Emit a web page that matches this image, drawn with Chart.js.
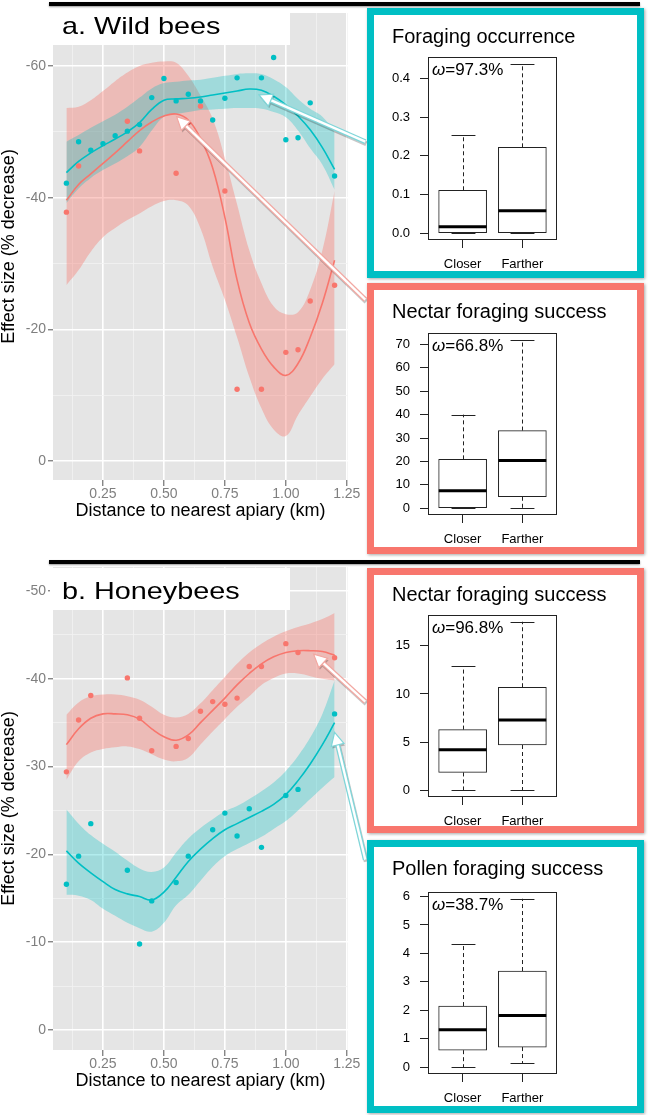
<!DOCTYPE html>
<html>
<head>
<meta charset="utf-8">
<script src="https://cdn.jsdelivr.net/npm/chart.js@4.4.1/dist/chart.umd.min.js"></script>
<style>
  html, body { margin: 0; padding: 0; background: #fff; }
  body { position: relative; width: 648px; height: 1115px; overflow: hidden; }
  canvas { position: absolute; }
  .rule { position: absolute; left: 49px; width: 591px; height: 4px; background: #000; box-shadow: 0 1px 2px rgba(0,0,0,0.4); }
  .frame { position: absolute; box-sizing: border-box; border: 7px solid; background: #fff; box-shadow: 1px 1px 3px rgba(0,0,0,0.35); }
</style>
</head>
<body>
<canvas id="wild" width="367" height="530" style="left:0;top:0"></canvas>
<canvas id="honey" width="367" height="550" style="left:0;top:550px"></canvas>
<div class="rule" style="top:2px"></div>
<div class="rule" style="top:560px"></div>
<div class="frame" style="left:367px;top:8px;width:277px;height:270px;border-color:#00BFC4"></div>
<div class="frame" style="left:367px;top:283px;width:277px;height:271px;border-color:#F8766D"></div>
<div class="frame" style="left:367px;top:568px;width:277px;height:265px;border-color:#F8766D"></div>
<div class="frame" style="left:367px;top:840px;width:277px;height:273px;border-color:#00BFC4"></div>
<canvas id="box1" width="263" height="256" style="left:374px;top:15px"></canvas>
<canvas id="box2" width="263" height="257" style="left:374px;top:290px"></canvas>
<canvas id="box3" width="263" height="251" style="left:374px;top:575px"></canvas>
<canvas id="box4" width="263" height="259" style="left:374px;top:847px"></canvas>
<script>
//colours of the two series, ggplot defaults
const RED = '#F8766D'
const TEAL = '#00BFC4'
const RED_BAND = 'rgba(248,118,109,0.38)'
const TEAL_BAND = 'rgba(0,191,196,0.30)'

//x positions of the smoothed fits and their bands
const fitX = [0.1, 0.15, 0.2, 0.25, 0.3, 0.35, 0.4, 0.45, 0.5, 0.55, 0.6, 0.65, 0.7, 0.75, 0.8, 0.85, 0.9, 0.95, 1.0, 1.05, 1.1, 1.15, 1.2]
const xTicks = [0.125, 0.25, 0.375, 0.5, 0.625, 0.75, 0.875, 1, 1.125, 1.25]
const xMajor = [0.25, 0.5, 0.75, 1, 1.25]

//a. wild bees
const wildRedX = [0.1, 0.15, 0.35, 0.4, 0.55, 0.6, 0.65, 0.75, 0.8, 0.9, 1.0, 1.05, 1.1, 1.2]
const wildRedY = [-37.8, -44.8, -51.6, -47.1, -43.7, -51.4, -53.9, -41.0, -10.9, -10.9, -16.5, -16.9, -24.3, -26.7]
const wildTealX = [0.1, 0.15, 0.2, 0.25, 0.3, 0.35, 0.4, 0.45, 0.5, 0.55, 0.6, 0.65, 0.7, 0.75, 0.8, 0.9, 0.95, 1.0, 1.05, 1.1, 1.2]
const wildTealY = [-42.2, -48.5, -47.2, -48.2, -49.4, -50.1, -51.1, -55.2, -58.1, -54.7, -55.7, -54.7, -51.8, -55.1, -58.2, -58.2, -61.3, -48.8, -49.1, -54.4, -43.3]
const wildRedFit = [-39.6, -42.0, -43.6, -45.2, -46.8, -48.5, -50.2, -51.5, -52.4, -52.7, -51.8, -49.0, -44.5, -37.0, -27.5, -21.0, -17.0, -14.3, -13.0, -14.8, -18.8, -24.0, -30.5]
const wildRedHi = [-53.6, -53.8, -54.8, -56.2, -57.7, -59.0, -60.0, -60.5, -60.7, -60.5, -58.5, -55.5, -52.0, -46.0, -39.0, -32.0, -27.0, -23.5, -22.3, -22.6, -26.0, -32.0, -41.0]
const wildRedLo = [-26.7, -29.0, -31.8, -34.0, -35.4, -36.6, -37.6, -38.7, -39.5, -39.6, -38.8, -35.3, -29.5, -24.5, -18.8, -12.8, -8.0, -4.8, -3.8, -7.0, -9.8, -12.5, -14.7]
const wildTealFit = [-43.8, -45.5, -46.8, -47.9, -48.9, -50.0, -51.4, -53.4, -54.8, -55.0, -55.1, -55.3, -55.6, -55.9, -56.2, -56.5, -56.3, -55.4, -54.1, -52.4, -50.3, -47.6, -44.3]
const wildTealHi = [-48.5, -49.5, -50.6, -51.6, -52.6, -53.8, -55.2, -56.6, -57.4, -57.6, -57.8, -57.9, -58.2, -58.5, -58.8, -58.9, -58.8, -58.0, -56.8, -55.0, -53.5, -52.3, -50.0]
const wildTealLo = [-39.2, -41.4, -43.0, -44.2, -45.2, -46.3, -47.7, -50.2, -52.3, -52.7, -53.0, -53.3, -53.4, -53.5, -53.6, -53.6, -53.5, -53.0, -52.2, -50.2, -47.5, -45.0, -41.2]
const wildYTicks = [-60, -50, -40, -30, -20, -10, 0]

//b. honeybees
const honeyRedX = [0.1, 0.15, 0.2, 0.35, 0.4, 0.45, 0.55, 0.6, 0.65, 0.7, 0.75, 0.8, 0.85, 0.9, 1.0, 1.05, 1.2]
const honeyRedY = [-29.4, -35.3, -38.1, -40.1, -35.5, -31.8, -32.3, -33.2, -36.3, -37.4, -37.1, -37.8, -41.4, -41.4, -44.0, -43.0, -42.4]
const honeyTealX = [0.1, 0.15, 0.2, 0.35, 0.4, 0.45, 0.55, 0.6, 0.7, 0.75, 0.8, 0.85, 0.9, 1.0, 1.05, 1.2]
const honeyTealY = [-16.6, -19.8, -23.5, -18.2, -9.8, -14.7, -16.8, -19.8, -22.8, -24.7, -22.1, -25.2, -20.8, -26.7, -27.4, -36.0]
const honeyRedFit = [-32.5, -34.3, -35.5, -36.0, -36.0, -35.9, -35.4, -34.3, -33.4, -33.0, -33.6, -35.0, -36.4, -37.8, -39.3, -40.6, -41.7, -42.5, -43.0, -43.2, -43.2, -43.1, -42.7]
const honeyRedHi = [-35.9, -37.3, -38.0, -38.2, -38.2, -38.0, -37.6, -36.8, -35.9, -35.6, -36.0, -37.2, -38.7, -40.2, -41.7, -43.0, -44.0, -44.8, -45.4, -45.9, -46.3, -46.8, -47.5]
const honeyRedLo = [-28.5, -30.6, -31.6, -32.0, -32.2, -32.3, -32.0, -31.4, -30.8, -30.6, -31.0, -32.5, -34.0, -35.4, -36.8, -38.0, -39.3, -40.1, -40.6, -40.6, -40.3, -40.0, -39.8]
const honeyTealFit = [-20.4, -19.0, -17.9, -16.9, -16.0, -15.5, -15.2, -14.8, -15.7, -17.4, -19.2, -20.6, -21.8, -22.8, -23.5, -24.2, -24.9, -25.7, -26.8, -28.4, -30.3, -32.5, -35.0]
const honeyTealHi = [-25.1, -23.5, -22.2, -21.2, -20.3, -19.3, -18.4, -18.0, -18.5, -20.2, -21.8, -23.0, -24.0, -24.9, -25.5, -26.3, -27.2, -28.2, -29.5, -31.2, -33.3, -36.0, -39.8]
const honeyTealLo = [-15.4, -15.3, -14.8, -13.8, -13.0, -12.2, -11.6, -11.2, -12.2, -14.2, -15.4, -17.0, -18.6, -19.8, -20.6, -21.3, -22.0, -22.9, -23.8, -25.0, -26.3, -27.6, -28.8]
const honeyYTicks = [-50, -45, -40, -35, -30, -25, -20, -15, -10, -5, 0]

//boxplot stats: min, lower quartile, median, upper quartile, max
const groups = ['Closer', 'Farther']
const occurrenceCloser = [0, 0, 0.017, 0.111, 0.254]
const occurrenceFarther = [0, 0, 0.058, 0.222, 0.438]
const wildNectarCloser = [0, 0, 7.5, 20.9, 40]
const wildNectarFarther = [0, 4.9, 20.4, 33.2, 72]
const honeyNectarCloser = [0, 1.85, 4.2, 6.3, 12.9]
const honeyNectarFarther = [0, 4.7, 7.3, 10.7, 17.5]
const pollenCloser = [0, 0.6, 1.32, 2.15, 4.32]
const pollenFarther = [0.14, 0.71, 1.82, 3.38, 5.92]

const FONT = '"Liberation Sans", Arial, Helvetica, sans-serif'
Chart.defaults.font.family = FONT

function pts(xs, ys) {
    return xs.map((x, i) => ({x, y: ys[i]}))
}

//band (upper filled down to lower) + fitted line + points for one series
function seriesSets(px, py, fit, hi, lo, color, band) {
    return [
        {type: 'line', data: pts(fitX, hi), borderColor: 'transparent', borderWidth: 0, pointRadius: 0, fill: '+1', backgroundColor: band, tension: 0.4, order: 3},
        {type: 'line', data: pts(fitX, lo), borderColor: 'transparent', borderWidth: 0, pointRadius: 0, fill: false, tension: 0.4, order: 3},
        {type: 'line', data: pts(fitX, fit), borderColor: color, borderWidth: 1.6, pointRadius: 0, fill: false, tension: 0.4, order: 2},
        {type: 'scatter', data: pts(px, py), backgroundColor: color, borderWidth: 0, pointRadius: 2.7, order: 1}
    ]
}

function drawArrow(ctx, x0, y0, x1, y1, color) {
    const ang = Math.atan2(y1 - y0, x1 - x0)
    const c = Math.cos(ang), s = Math.sin(ang)
    const len = 13, w = 6.5
    const bx = x1 - c * len, by = y1 - s * len
    const head = (dx, dy) => {
        ctx.beginPath()
        ctx.moveTo(x1 + dx, y1 + dy)
        ctx.lineTo(bx - s * w + dx, by + c * w + dy)
        ctx.lineTo(bx + s * w + dx, by - c * w + dy)
        ctx.closePath()
    }
    ctx.save()
    ctx.lineCap = 'butt'
    //soft shadow
    ctx.strokeStyle = 'rgba(0,0,0,0.22)'
    ctx.lineWidth = 5
    ctx.beginPath(); ctx.moveTo(x0 + 1, y0 + 2); ctx.lineTo(bx + 1, by + 2); ctx.stroke()
    head(1, 2); ctx.fillStyle = 'rgba(0,0,0,0.22)'; ctx.fill()
    //shaft: coloured rim, white core
    ctx.strokeStyle = color
    ctx.lineWidth = 5
    ctx.beginPath(); ctx.moveTo(x0, y0); ctx.lineTo(bx, by); ctx.stroke()
    ctx.strokeStyle = '#fff'
    ctx.lineWidth = 2.4
    ctx.beginPath(); ctx.moveTo(x0, y0); ctx.lineTo(bx + c * 2, by + s * 2); ctx.stroke()
    head(0, 0)
    ctx.fillStyle = '#fff'; ctx.fill()
    ctx.strokeStyle = color; ctx.lineWidth = 1.2; ctx.stroke()
    ctx.restore()
}

//grey panel, white title box, arrows to the insets
function panelPlugin(title, box, arrows) {
    return {
        id: 'panel',
        beforeDraw(chart) {
            const {ctx, chartArea: a} = chart
            ctx.save()
            ctx.fillStyle = '#E5E5E5'
            ctx.fillRect(a.left, a.top, a.right - a.left, a.bottom - a.top)
            ctx.restore()
        },
        beforeDatasetsDraw(chart) {
            const ctx = chart.ctx
            ctx.save()
            ctx.fillStyle = '#fff'
            ctx.fillRect(box.x, box.y, box.w, box.h)
            ctx.fillStyle = '#000'
            ctx.font = '24px ' + FONT
            ctx.textBaseline = 'alphabetic'
            ctx.translate(box.tx, box.ty)
            ctx.scale(1.2, 1)
            ctx.fillText(title, 0, 0)
            ctx.restore()
        },
        afterDatasetsDraw(chart) {
            const {ctx, scales: {x, y}} = chart
            arrows.forEach(ar => {
                drawArrow(ctx,
                    x.getPixelForValue(ar.from[0]), y.getPixelForValue(ar.from[1]),
                    x.getPixelForValue(ar.to[0]), y.getPixelForValue(ar.to[1]), ar.color)
            })
        }
    }
}

function panelChart(id, cfg) {
    const isMajorX = v => xMajor.some(m => Math.abs(m - v) < 1e-6)
    const isMajorY = v => Math.abs(v % cfg.yMajor) < 1e-6
    return new Chart(document.getElementById(id), {
        type: 'scatter',
        data: {datasets: cfg.datasets},
        options: {
            responsive: false, animation: false, devicePixelRatio: 1, events: [],
            layout: {padding: {top: cfg.top, right: 19, left: 0, bottom: 0}},
            plugins: {legend: {display: false}, tooltip: {enabled: false}},
            scales: {
                x: {
                    type: 'linear', min: 0.045, max: 1.255,
                    afterBuildTicks: s => { s.ticks = xTicks.map(v => ({value: v})) },
                    ticks: {autoSkip: false, maxRotation: 0, color: '#7F7F7F', font: {size: 14}, padding: 0,
                        callback: v => isMajorX(v) ? v.toFixed(2) : ''},
                    grid: {color: c => isMajorX(c.tick.value) ? '#fff' : '#F2F2F2',
                        lineWidth: c => isMajorX(c.tick.value) ? 1.6 : 0.8,
                        tickLength: 6, tickWidth: 1,
                        tickColor: c => isMajorX(c.tick.value) ? '#555' : 'rgba(0,0,0,0)'},
                    border: {display: false},
                    title: {display: true, text: 'Distance to nearest apiary (km)', color: '#000',
                        font: {size: 18, lineHeight: 1}, padding: {top: 0, bottom: 10}},
                    afterFit: s => { s.height = 50; s.paddingLeft = 0; s.paddingRight = 0 }
                },
                y: {
                    type: 'linear', reverse: true, min: cfg.yMin, max: cfg.yMax,
                    afterBuildTicks: s => { s.ticks = cfg.yTicks.map(v => ({value: v})) },
                    ticks: {autoSkip: false, color: '#7F7F7F', font: {size: 14}, padding: 2,
                        callback: v => isMajorY(v) ? String(v) : ''},
                    grid: {color: c => isMajorY(c.tick.value) ? '#fff' : '#F2F2F2',
                        lineWidth: c => isMajorY(c.tick.value) ? 1.6 : 0.8,
                        tickLength: 5, tickWidth: 1,
                        tickColor: c => isMajorY(c.tick.value) ? '#555' : 'rgba(0,0,0,0)'},
                    border: {display: false},
                    title: {display: true, text: 'Effect size (% decrease)', color: '#000',
                        font: {size: 18, lineHeight: 1}, padding: {top: 0, bottom: 0}},
                    afterFit: s => { s.width = 53; s.paddingTop = 0; s.paddingBottom = 0 }
                }
            }
        },
        plugins: [panelPlugin(cfg.title, cfg.box, cfg.arrows)]
    })
}

panelChart('wild', {
    title: 'a. Wild bees', top: 13, yMin: -68.05, yMax: 2.89, yTicks: wildYTicks, yMajor: 20,
    box: {x: 50, y: 11, w: 240, h: 34, tx: 62, ty: 34},
    datasets: [
        ...seriesSets(wildTealX, wildTealY, wildTealFit, wildTealHi, wildTealLo, TEAL, TEAL_BAND),
        ...seriesSets(wildRedX, wildRedY, wildRedFit, wildRedHi, wildRedLo, RED, RED_BAND)
    ],
    arrows: [
        {from: [1.326, -48.5], to: [0.89, -55.6], color: '#7FD6D9'},
        {from: [1.326, -24.5], to: [0.552, -52.3], color: '#F2A8A2'}
    ]
})

panelChart('honey', {
    title: 'b. Honeybees', top: 17, yMin: -52.73, yMax: 2.28, yTicks: honeyYTicks, yMajor: 10,
    box: {x: 50, y: 18, w: 240, h: 42, tx: 62, ty: 49},
    datasets: [
        ...seriesSets(honeyTealX, honeyTealY, honeyTealFit, honeyTealHi, honeyTealLo, TEAL, TEAL_BAND),
        ...seriesSets(honeyRedX, honeyRedY, honeyRedFit, honeyRedHi, honeyRedLo, RED, RED_BAND)
    ],
    arrows: [
        {from: [1.326, -37.4], to: [1.114, -42.8], color: '#F2A8A2'},
        {from: [1.326, -19.4], to: [1.2, -33.9], color: '#7FD6D9'}
    ]
})

//whiskers, caps, medians, frame, title and omega label of one inset
function boxPlugin(stats, title, omega, titleY) {
    return {
        id: 'boxes',
        afterDatasetsDraw(chart) {
            const {ctx, chartArea: a, scales: {x, y}} = chart
            ctx.save()
            ctx.strokeStyle = '#222'
            ctx.lineWidth = 1
            ctx.strokeRect(a.left + 0.5, a.top + 0.5, a.right - a.left - 1, a.bottom - a.top - 1)
            stats.forEach((s, i) => {
                const cx = Math.round(x.getPixelForValue(i + 1)) + 0.5
                const l = x.getPixelForValue(i + 0.6), r = x.getPixelForValue(i + 1.4)
                const half = (r - l) / 4
                ctx.lineWidth = 1
                ctx.setLineDash([4, 3])
                ctx.beginPath()
                ctx.moveTo(cx, y.getPixelForValue(s[3])); ctx.lineTo(cx, y.getPixelForValue(s[4]))
                ctx.moveTo(cx, y.getPixelForValue(s[1])); ctx.lineTo(cx, y.getPixelForValue(s[0]))
                ctx.stroke()
                ctx.setLineDash([])
                ctx.beginPath()
                ;[s[0], s[4]].forEach(v => {
                    const py = Math.round(y.getPixelForValue(v)) + 0.5
                    ctx.moveTo(cx - half, py); ctx.lineTo(cx + half, py)
                })
                ctx.stroke()
                ctx.lineWidth = 3
                ctx.strokeStyle = '#000'
                ctx.beginPath()
                const my = y.getPixelForValue(s[2])
                ctx.moveTo(l, my); ctx.lineTo(r, my)
                ctx.stroke()
                ctx.strokeStyle = '#222'
            })
            ctx.fillStyle = '#000'
            ctx.textBaseline = 'alphabetic'
            ctx.font = '20px ' + FONT
            ctx.fillText(title, 18, titleY)
            ctx.font = 'italic 17px ' + FONT
            const ox = a.left + 4, oy = a.top + 18
            ctx.fillText('\u03C9', ox, oy)
            const wo = ctx.measureText('\u03C9').width
            ctx.font = '17px ' + FONT
            ctx.fillText('=' + omega, ox + wo, oy)
            ctx.restore()
        }
    }
}

function boxChart(id, cfg) {
    const stats = [cfg.closer, cfg.farther]
    const lo = Math.min(cfg.closer[0], cfg.farther[0])
    const hi = Math.max(cfg.closer[4], cfg.farther[4])
    const pad = (hi - lo) * 0.04
    return new Chart(document.getElementById(id), {
        type: 'bar',
        data: {
            datasets: [{
                data: stats.map((s, i) => ({x: i + 1, y: [s[1], s[3]]})),
                backgroundColor: '#fff', borderColor: '#222', borderWidth: 1, borderSkipped: false,
                barThickness: 48
            }]
        },
        options: {
            responsive: false, animation: false, devicePixelRatio: 1, events: [],
            layout: {padding: {top: cfg.top, right: 80, left: 0, bottom: 0}},
            plugins: {legend: {display: false}, tooltip: {enabled: false}},
            scales: {
                x: {
                    type: 'linear', min: 0.42, max: 2.58, offset: false,
                    afterBuildTicks: s => { s.ticks = [1, 2].map(v => ({value: v})) },
                    ticks: {autoSkip: false, maxRotation: 0, color: '#000', font: {size: 13}, padding: 9,
                        callback: v => groups[v - 1]},
                    grid: {offset: false, drawOnChartArea: false, tickLength: 8, tickColor: '#222', lineWidth: 1},
                    border: {display: false},
                    afterFit: s => { s.height = cfg.xh; s.paddingLeft = 0; s.paddingRight = 0 }
                },
                y: {
                    type: 'linear', min: lo - pad, max: hi + pad,
                    afterBuildTicks: s => { s.ticks = cfg.ticks.map(v => ({value: v})) },
                    ticks: {autoSkip: false, color: '#000', font: {size: 13}, padding: 10,
                        callback: v => v.toFixed(cfg.digits)},
                    grid: {drawOnChartArea: false, tickLength: 8, tickColor: '#222', lineWidth: 1},
                    border: {display: false},
                    afterFit: s => { s.width = 54; s.paddingTop = 0; s.paddingBottom = 0 }
                }
            }
        },
        plugins: [boxPlugin(stats, cfg.title, cfg.omega, cfg.titleY)]
    })
}

boxChart('box1', {title: 'Foraging occurrence', omega: '97.3%', closer: occurrenceCloser, farther: occurrenceFarther,
    ticks: [0, 0.1, 0.2, 0.3, 0.4], digits: 1, top: 42, xh: 31, titleY: 28})
boxChart('box2', {title: 'Nectar foraging success', omega: '66.8%', closer: wildNectarCloser, farther: wildNectarFarther,
    ticks: [0, 10, 20, 30, 40, 50, 60, 70], digits: 0, top: 43, xh: 32, titleY: 28})
boxChart('box3', {title: 'Nectar foraging success', omega: '96.8%', closer: honeyNectarCloser, farther: honeyNectarFarther,
    ticks: [0, 5, 10, 15], digits: 0, top: 40, xh: 29, titleY: 26})
boxChart('box4', {title: 'Pollen foraging success', omega: '38.7%', closer: pollenCloser, farther: pollenFarther,
    ticks: [0, 1, 2, 3, 4, 5, 6], digits: 0, top: 45, xh: 32, titleY: 28})
</script>
</body>
</html>
